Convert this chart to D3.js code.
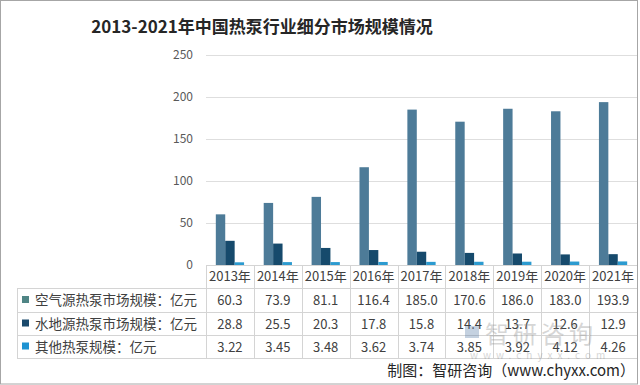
<!DOCTYPE html>
<html>
<head>
<meta charset="utf-8">
<script src="https://cdn.jsdelivr.net/npm/d3@7"></script>
<style>
  body { margin: 0; background: #fff; }
  text { font-family: "Noto Sans CJK SC", "Noto Sans", sans-serif; }
</style>
</head>
<body>
<div id="wrap"></div>
<script>
// 数据
const years = ["2013年", "2014年", "2015年", "2016年", "2017年", "2018年", "2019年", "2020年", "2021年"];
const seriesNames = ["空气源热泵市场规模：亿元", "水地源热泵市场规模：亿元", "其他热泵规模：亿元"];
const airSource = [60.3, 73.9, 81.1, 116.4, 185.0, 170.6, 186.0, 183.0, 193.9];
const groundSource = [28.8, 25.5, 20.3, 17.8, 15.8, 14.4, 13.7, 12.6, 12.9];
const otherPump = [3.22, 3.45, 3.48, 3.62, 3.74, 3.85, 3.92, 4.12, 4.26];
const airLabels = ["60.3", "73.9", "81.1", "116.4", "185.0", "170.6", "186.0", "183.0", "193.9"];
const groundLabels = ["28.8", "25.5", "20.3", "17.8", "15.8", "14.4", "13.7", "12.6", "12.9"];
const otherLabels = ["3.22", "3.45", "3.48", "3.62", "3.74", "3.85", "3.92", "4.12", "4.26"];
const yTicks = [0, 50, 100, 150, 200, 250];

const series = [airSource, groundSource, otherPump];
const labels = [airLabels, groundLabels, otherLabels];
const colors = ["#4d7b98", "#164a6c", "#2c9bd0"];
const legendColors = ["#4f8585", "#1a4a6c", "#1e93d2"];

const width = 640;
const height = 385;
const svg = d3.select("#wrap")
  .append("svg")
  .attr("width", width)
  .attr("height", height);

// 外框
svg.append("rect")
  .attr("x", 0.5).attr("y", 0.5)
  .attr("width", 637).attr("height", 383.5)
  .attr("fill", "none")
  .attr("stroke", "#a6a6a6");

// 标题
svg.append("text")
  .attr("x", 262)
  .attr("y", 33)
  .attr("text-anchor", "middle")
  .attr("font-size", 17)
  .attr("font-weight", "bold")
  .attr("fill", "#262626")
  .text("2013-2021年中国热泵行业细分市场规模情况");

const plot = { left: 206, right: 637, top: 55, bottom: 265 };

const xScale = d3.scaleBand()
  .domain(years)
  .range([plot.left, plot.right])
  .paddingInner(0);

const groupWidth = xScale.bandwidth() * 0.59;
const xInner = d3.scaleBand()
  .domain(d3.range(series.length))
  .range([0, groupWidth])
  .padding(0);

const yScale = d3.scaleLinear()
  .domain([0, 250])
  .range([plot.bottom, plot.top]);

// 网格线
svg.append("g")
  .selectAll("line")
  .data(yTicks)
  .join("line")
  .attr("x1", plot.left)
  .attr("x2", plot.right)
  .attr("y1", d => Math.round(yScale(d)) + 0.5)
  .attr("y2", d => Math.round(yScale(d)) + 0.5)
  .attr("stroke", "#dedede");

// y轴
const yAxis = d3.axisLeft(yScale).tickValues(yTicks).tickSize(0).tickPadding(0);
const gy = svg.append("g").attr("transform", "translate(193,0)");
yAxis(gy);
gy.select(".domain").remove();
gy.selectAll("text")
  .attr("font-size", 12)
  .attr("fill", "#595959")
  .attr("font-family", "\"Noto Sans CJK SC\", sans-serif");

// 柱子
series.forEach((vals, s) => {
  svg.append("g")
    .selectAll("rect")
    .data(vals)
    .join("rect")
    .attr("x", (d, i) => xScale(years[i]) + (xScale.bandwidth() - groupWidth) / 2 + xInner(s))
    .attr("y", d => yScale(d))
    .attr("width", xInner.bandwidth())
    .attr("height", d => yScale(0) - yScale(d))
    .attr("fill", colors[s]);
});

// 数据表
const tableLeft = 17;
const rowLines = [288, 312, 335, 358];
const lineColor = "#d4d4d4";
const table = svg.append("g");

rowLines.forEach(y => {
  table.append("line")
    .attr("x1", tableLeft).attr("x2", plot.right)
    .attr("y1", y + 0.5).attr("y2", y + 0.5)
    .attr("stroke", lineColor);
});
table.append("line")
  .attr("x1", plot.left).attr("x2", plot.right)
  .attr("y1", plot.bottom + 0.5).attr("y2", plot.bottom + 0.5)
  .attr("stroke", lineColor);
table.append("line")
  .attr("x1", tableLeft + 0.5).attr("x2", tableLeft + 0.5)
  .attr("y1", 288).attr("y2", 358)
  .attr("stroke", lineColor);
table.selectAll("line.col")
  .data(years)
  .join("line")
  .attr("class", "col")
  .attr("x1", d => Math.round(xScale(d)) + 0.5)
  .attr("x2", d => Math.round(xScale(d)) + 0.5)
  .attr("y1", plot.bottom)
  .attr("y2", 358)
  .attr("stroke", lineColor);

// 年份
table.selectAll("text.year")
  .data(years)
  .join("text")
  .attr("class", "year")
  .attr("x", d => xScale(d) + xScale.bandwidth() / 2)
  .attr("y", 281)
  .attr("text-anchor", "middle")
  .attr("font-size", 13)
  .attr("fill", "#404040")
  .text(d => d);

// 图例 + 数值
const rowMid = [300, 323.5, 346.5];
seriesNames.forEach((name, s) => {
  table.append("rect")
    .attr("x", 22).attr("y", rowMid[s] - 4)
    .attr("width", 7).attr("height", 7)
    .attr("fill", legendColors[s]);
  table.append("text")
    .attr("x", 35).attr("y", rowMid[s] + 5)
    .attr("font-size", 13.5)
    .attr("fill", "#404040")
    .text(name);
  table.append("g")
    .selectAll("text")
    .data(labels[s])
    .join("text")
    .attr("x", (d, i) => xScale(years[i]) + xScale.bandwidth() / 2)
    .attr("y", rowMid[s] + 5)
    .attr("text-anchor", "middle")
    .attr("font-size", 13)
    .attr("fill", "#404040")
    .text(d => d);
});

// 水印
const wm = svg.append("g").attr("opacity", 0.35);
wm.append("rect").attr("x", 465).attr("y", 326).attr("width", 14).attr("height", 12).attr("fill", "#5a7ea8");
wm.append("text")
  .attr("x", 485).attr("y", 343)
  .attr("font-size", 24)
  .attr("fill", "#8c8c8c")
  .attr("letter-spacing", 4)
  .text("智研咨询");
wm.append("text")
  .attr("x", 470).attr("y", 359)
  .attr("font-size", 10)
  .attr("fill", "#8c8c8c")
  .attr("letter-spacing", 5)
  .text("www.chyxx.com");

// 来源
svg.append("text")
  .attr("x", 635)
  .attr("y", 376)
  .attr("text-anchor", "end")
  .attr("font-size", 15)
  .attr("fill", "#262626")
  .text("制图：智研咨询（www.chyxx.com）");
</script>
</body>
</html>
